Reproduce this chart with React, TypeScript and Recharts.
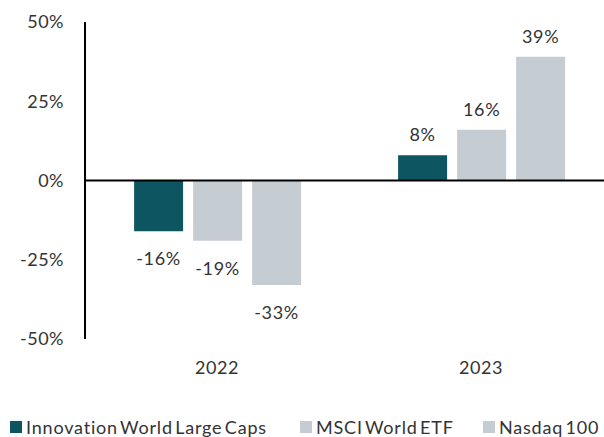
import React from "react";
import { BarChart, Bar, XAxis, YAxis, ReferenceLine, Legend } from "recharts";

const years = ["2022", "2023"];
const innovation = [-16, 8];
const msci = [-19, 16];
const nasdaq = [-33, 39];
const yTicks = [-50, -25, 0, 25, 50];
const seriesNames = ["Innovation World Large Caps", "MSCI World ETF", "Nasdaq 100"];

const data = years.map((y, i) => ({
  year: y,
  innovation: innovation[i],
  msci: msci[i],
  nasdaq: nasdaq[i],
}));

const FONT = "Lato, 'DejaVu Sans', sans-serif";
const TEXT = "#333333";
const TEAL = "#0e5562";
const GREY = "#c5cdd3";

const renderLabel = (props: any) => {
  const { x, y, width, height, value } = props;
  const top = Math.min(y, y + height);
  const bottom = Math.max(y, y + height);
  const cy = value < 0 ? bottom + 27 : top - 21;
  return (
    <text
      x={x + width / 2}
      y={cy}
      textAnchor="middle"
      dominantBaseline="central"
      fill={TEXT}
      fontSize={18}
      fontFamily={FONT}
      style={{ letterSpacing: 0.7 }}
    >
      {`${value}%`}
    </text>
  );
};

const itemWidths = [290, 183, 120];

const renderLegend = (props: any) => {
  const { payload } = props;
  return (
    <div style={{ display: "flex", fontFamily: FONT, fontSize: 18, color: TEXT, letterSpacing: 0.8, wordSpacing: -3 }}>
      {payload.map((p: any, i: number) => (
        <div key={i} style={{ display: "flex", alignItems: "center", width: itemWidths[i], whiteSpace: "nowrap" }}>
          <span style={{ display: "inline-block", width: 12, height: 12, background: p.color, marginRight: 4 }} />
          <span>{p.value}</span>
        </div>
      ))}
    </div>
  );
};

export default function App() {
  return (
    <div style={{ position: "absolute", left: 0, top: 0, width: 604, height: 437, overflow: "hidden", background: "#fff" }}>
      <BarChart
        width={620}
        height={437}
        data={data}
        margin={{ top: 22, right: 7, bottom: 48, left: 0 }}
        barCategoryGap="18.6%"
        barGap={10}
      >
        <XAxis
          dataKey="year"
          axisLine={false}
          tickLine={false}
          tickSize={0}
          tickMargin={22}
          height={50}
          tick={{ fill: TEXT, fontSize: 18, fontFamily: FONT, style: { letterSpacing: 0.5 } }}
        />
        <YAxis
          width={85}
          domain={[-50, 50]}
          ticks={yTicks}
          tickFormatter={(v: number) => `${v}%`}
          axisLine={{ stroke: "#000", strokeWidth: 2 }}
          tickLine={false}
          tickSize={0}
          tickMargin={21}
          tick={{ fill: TEXT, fontSize: 18, fontFamily: FONT, style: { letterSpacing: 0.5 } }}
        />
        <ReferenceLine y={0} stroke="#000" strokeWidth={2} />
        <Legend
          layout="horizontal"
          verticalAlign="middle"
          align="center"
          content={renderLegend}
          wrapperStyle={{ left: 10, top: 416, width: 600, height: 22 }}
        />
        <Bar dataKey="innovation" name={seriesNames[0]} fill={TEAL} isAnimationActive={false} label={renderLabel} />
        <Bar dataKey="msci" name={seriesNames[1]} fill={GREY} isAnimationActive={false} label={renderLabel} />
        <Bar dataKey="nasdaq" name={seriesNames[2]} fill={GREY} isAnimationActive={false} label={renderLabel} />
      </BarChart>
    </div>
  );
}
